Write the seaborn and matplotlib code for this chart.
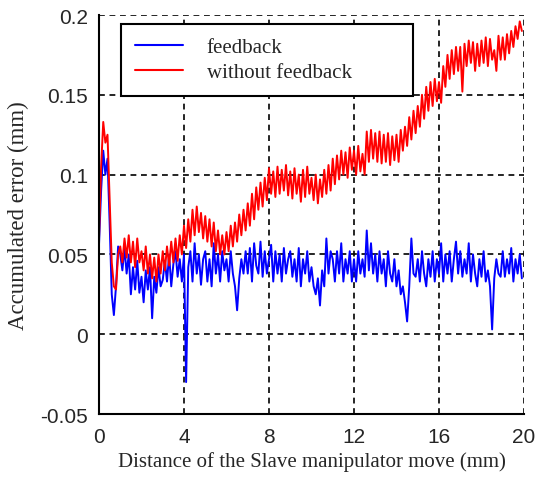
import numpy as np
import pandas as pd
import matplotlib
matplotlib.use("Agg")
import matplotlib.pyplot as plt
import seaborn as sns

# distance samples (mm), 0.1 mm apart
distance = np.round(np.arange(0, 20, 0.1), 1)

# accumulated error with feedback (mm)
feedback = [
    0.056, 0.090, 0.115, 0.100, 0.110, 0.070, 0.025, 0.012, 0.030, 0.055,
    0.050, 0.040, 0.054, 0.038, 0.050, 0.025, 0.042, 0.028, 0.046, 0.026,
    0.036, 0.020, 0.040, 0.028, 0.042, 0.010, 0.036, 0.026, 0.042, 0.030,
    0.034, 0.046, 0.033, 0.050, 0.030, 0.044, 0.052, 0.036, 0.047, 0.033,
    0.050, -0.030, 0.042, 0.052, 0.033, 0.057, 0.038, 0.050, 0.031, 0.047,
    0.052, 0.033, 0.047, 0.030, 0.057, 0.038, 0.050, 0.033, 0.052, 0.040,
    0.047, 0.033, 0.052, 0.038, 0.030, 0.015, 0.035, 0.047, 0.038, 0.052,
    0.038, 0.054, 0.033, 0.057, 0.043, 0.038, 0.058, 0.036, 0.052, 0.038,
    0.047, 0.056, 0.033, 0.052, 0.038, 0.050, 0.033, 0.054, 0.038, 0.047,
    0.052, 0.036, 0.047, 0.033, 0.054, 0.030, 0.047, 0.038, 0.052, 0.033,
    0.042, 0.030, 0.025, 0.035, 0.018, 0.040, 0.030, 0.060, 0.038, 0.052,
    0.047, 0.033, 0.052, 0.038, 0.057, 0.033, 0.047, 0.038, 0.052, 0.033,
    0.047, 0.033, 0.052, 0.038, 0.047, 0.036, 0.065, 0.040, 0.057, 0.038,
    0.050, 0.033, 0.052, 0.038, 0.047, 0.030, 0.052, 0.038, 0.033, 0.047,
    0.030, 0.040, 0.025, 0.030, 0.020, 0.008, 0.030, 0.060, 0.038, 0.036,
    0.047, 0.033, 0.052, 0.038, 0.030, 0.047, 0.036, 0.052, 0.033, 0.047,
    0.038, 0.057, 0.033, 0.050, 0.038, 0.052, 0.033, 0.047, 0.058, 0.038,
    0.052, 0.036, 0.047, 0.038, 0.057, 0.033, 0.050, 0.038, 0.030, 0.047,
    0.036, 0.052, 0.033, 0.040, 0.030, 0.003, 0.035, 0.047, 0.038, 0.036,
    0.052, 0.036, 0.047, 0.038, 0.054, 0.033, 0.047, 0.038, 0.050, 0.035,
]

# accumulated error without feedback (mm)
no_feedback = [
    0.060, 0.105, 0.133, 0.120, 0.125, 0.085, 0.045, 0.030, 0.028, 0.050,
    0.055, 0.045, 0.060, 0.048, 0.062, 0.045, 0.058, 0.042, 0.060, 0.045,
    0.052, 0.040, 0.055, 0.038, 0.050, 0.035, 0.048, 0.033, 0.050, 0.038,
    0.052, 0.040, 0.055, 0.043, 0.058, 0.045, 0.060, 0.046, 0.062, 0.050,
    0.068, 0.054, 0.072, 0.058, 0.078, 0.062, 0.080, 0.064, 0.076, 0.060,
    0.074, 0.058, 0.072, 0.055, 0.070, 0.052, 0.065, 0.050, 0.062, 0.050,
    0.064, 0.052, 0.068, 0.055, 0.070, 0.058, 0.075, 0.062, 0.078, 0.065,
    0.082, 0.068, 0.088, 0.072, 0.092, 0.078, 0.095, 0.080, 0.098, 0.084,
    0.104, 0.088, 0.102, 0.086, 0.105, 0.088, 0.103, 0.090, 0.106, 0.087,
    0.102, 0.085, 0.104, 0.088, 0.100, 0.083, 0.103, 0.086, 0.105, 0.088,
    0.098, 0.084, 0.100, 0.082, 0.097, 0.086, 0.103, 0.088, 0.106, 0.090,
    0.110, 0.094, 0.112, 0.097, 0.115, 0.100, 0.114, 0.098, 0.117, 0.103,
    0.115, 0.100, 0.118, 0.102, 0.113, 0.100, 0.127, 0.108, 0.128, 0.110,
    0.126, 0.108, 0.127, 0.107, 0.125, 0.108, 0.126, 0.106, 0.124, 0.109,
    0.125, 0.108, 0.128, 0.115, 0.130, 0.118, 0.136, 0.122, 0.140, 0.126,
    0.143, 0.130, 0.150, 0.135, 0.155, 0.140, 0.158, 0.143, 0.160, 0.146,
    0.158, 0.145, 0.168, 0.155, 0.175, 0.160, 0.178, 0.163, 0.180, 0.165,
    0.180, 0.152, 0.182, 0.168, 0.184, 0.170, 0.183, 0.165, 0.182, 0.168,
    0.184, 0.170, 0.186, 0.168, 0.185, 0.172, 0.178, 0.165, 0.187, 0.172,
    0.186, 0.172, 0.188, 0.176, 0.190, 0.180, 0.193, 0.185, 0.196, 0.190,
]

series_names = ["feedback", "without feedback"]
series_colors = ["#0000ff", "#ff0000"]

x_ticks = [0, 4, 8, 12, 16, 20]
y_ticks = [-0.05, 0, 0.05, 0.1, 0.15, 0.2]
y_tick_labels = ["-0.05", "0", "0.05", "0.1", "0.15", "0.2"]

df = pd.concat([
    pd.DataFrame({"distance": distance, "error": feedback, "series": series_names[0]}),
    pd.DataFrame({"distance": distance, "error": no_feedback, "series": series_names[1]}),
])

sns.set_style("white")
plt.rcParams["font.family"] = ["Liberation Serif", "DejaVu Serif"]

fig = plt.figure(figsize=(5.36, 4.81), dpi=100)
ax = fig.add_axes([0.1847, 0.1372, 0.7929, 0.8295])

sns.lineplot(data=df, x="distance", y="error", hue="series",
             palette=dict(zip(series_names, series_colors)),
             estimator=None, sort=False, linewidth=1.4, ax=ax)

ax.set_xlim(0, 20)
ax.set_ylim(-0.05, 0.2)
ax.set_xticks(x_ticks)
ax.set_yticks(y_ticks)
ax.set_yticklabels(y_tick_labels)
for lab in ax.get_xticklabels() + ax.get_yticklabels():
    lab.set_family(["Liberation Sans", "DejaVu Sans"])
    lab.set_fontsize(15)
ax.tick_params(axis="both", direction="in", length=4, width=1.2, color="black")
ax.tick_params(axis="x", pad=9)
ax.tick_params(axis="y", pad=8)

ax.grid(True, color="black", linestyle=(0, (3.5, 2.8)), linewidth=1.2)
for side in ["top", "right"]:
    ax.spines[side].set_visible(False)
for side in ["left", "bottom"]:
    ax.spines[side].set_color("black")
    ax.spines[side].set_linewidth(1.5)

ax.set_xlabel("Distance of the Slave manipulator move (mm)", fontsize=15, labelpad=4)
ax.set_ylabel("Accumulated error (mm)", fontsize=16.5, labelpad=8)

leg = ax.legend(loc="upper left", bbox_to_anchor=(0.052, 0.80, 0.687, 0.177),
                mode="expand", fontsize=15, frameon=True, fancybox=False,
                framealpha=1, edgecolor="black", borderpad=0.65, labelspacing=0.25,
                handlelength=2.3, handletextpad=1.15, borderaxespad=0)
leg.get_frame().set_linewidth(1.5)
for line in leg.get_lines():
    line.set_linewidth(1.5)

fig.savefig("out.png", dpi=100)
